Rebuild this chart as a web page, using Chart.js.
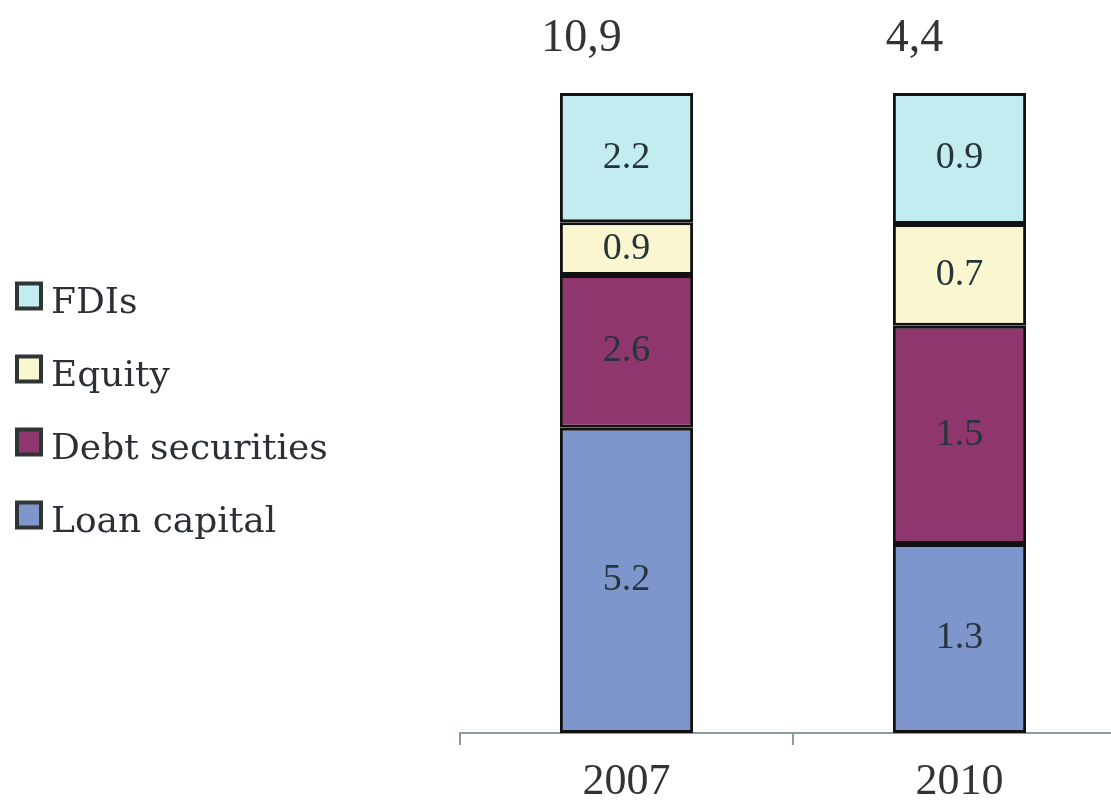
<!DOCTYPE html>
<html lang="en">
<head>
<meta charset="UTF-8" />
<title>Capital inflows, 2007 and 2010</title>
<script src="https://cdn.jsdelivr.net/npm/chart.js"></script>
<style>
  html, body { margin: 0; padding: 0; background: #fff; overflow: hidden; }
  #wrap { width: 1126px; height: 800px; }
</style>
</head>
<body>
<div id="wrap"><canvas id="flowsChart"></canvas></div>
<script>
  // Values per year (bars are drawn as shares of each year's total)
  const years = ['2007', '2010'];
  const loanCapital = [5.2, 1.3];
  const debtSecurities = [2.6, 1.5];
  const equity = [0.9, 0.7];
  const fdis = [2.2, 0.9];

  const series = [
    { label: 'Loan capital', values: loanCapital, color: '#7f96cd' },
    { label: 'Debt securities', values: debtSecurities, color: '#8e366d' },
    { label: 'Equity', values: equity, color: '#faf6cf' },
    { label: 'FDIs', values: fdis, color: '#c3ecf1' }
  ];

  const totals = years.map((_, j) => series.reduce((s, d) => s + d.values[j], 0));
  const serif = '"Liberation Serif", "Times New Roman", serif';

  // Raw values inside the segments, totals above the bars
  const valueLabels = {
    id: 'valueLabels',
    afterDatasetsDraw(chart) {
      const ctx = chart.ctx;
      ctx.save();
      ctx.textAlign = 'center';
      ctx.textBaseline = 'middle';
      ctx.font = '38px ' + serif;
      ctx.fillStyle = '#25353a';
      chart.data.datasets.forEach((ds, i) => {
        chart.getDatasetMeta(i).data.forEach((bar, j) => {
          ctx.fillText(ds.raw[j].toFixed(1), bar.x, (bar.y + bar.base) / 2);
        });
      });
      ctx.font = '46px ' + serif;
      ctx.fillStyle = '#333';
      chart.getDatasetMeta(0).data.forEach((bar, j) => {
        ctx.fillText(totals[j].toFixed(1).replace('.', ','), bar.x - 45, chart.chartArea.top - 54);
      });
      ctx.restore();
    }
  };

  // Legend on the left, top item = top segment
  const sideLegend = {
    id: 'sideLegend',
    afterDraw(chart) {
      const ctx = chart.ctx;
      const area = chart.chartArea;
      const mid = (area.top + area.bottom) / 2;
      const items = chart.data.datasets.slice().reverse();
      ctx.save();
      ctx.font = '36px "DejaVu Serif", serif';
      ctx.textBaseline = 'middle';
      ctx.textAlign = 'left';
      items.forEach((ds, i) => {
        const y = mid + (i - (items.length - 1) / 2) * 73;
        ctx.fillStyle = ds.backgroundColor;
        ctx.fillRect(17, y - 20, 24, 25);
        ctx.lineWidth = 4;
        ctx.strokeStyle = '#2f3434';
        ctx.strokeRect(17, y - 20, 24, 25);
        ctx.fillStyle = '#2b2f36';
        ctx.fillText(ds.label, 51, y);
      });
      ctx.restore();
    }
  };

  new Chart(document.getElementById('flowsChart'), {
    type: 'bar',
    data: {
      labels: years,
      datasets: series.map(s => ({
        label: s.label,
        raw: s.values,
        data: s.values.map((v, j) => v / totals[j] * 100),
        backgroundColor: s.color,
        borderColor: '#111',
        borderWidth: 3,
        borderSkipped: false,
        barPercentage: 0.5,
        categoryPercentage: 0.8
      }))
    },
    options: {
      responsive: true,
      maintainAspectRatio: false,
      animation: false,
      layout: { padding: { top: 93, left: 460 } },
      plugins: {
        legend: { display: false },
        tooltip: {
          callbacks: {
            label: c => c.dataset.label + ': ' + c.dataset.raw[c.dataIndex].toFixed(1)
          }
        }
      },
      scales: {
        x: {
          stacked: true,
          grid: { display: true, drawOnChartArea: false, tickLength: 12, color: '#8c9c9c', lineWidth: 2 },
          border: { color: '#8c9c9c', width: 2 },
          ticks: { padding: 15, color: '#333', font: { family: serif, size: 44, lineHeight: 1 } },
          afterFit: s => { s.height = 67; }
        },
        y: {
          display: false,
          stacked: true,
          min: 0,
          max: 100
        }
      }
    },
    plugins: [valueLabels, sideLegend]
  });
</script>
</body>
</html>
